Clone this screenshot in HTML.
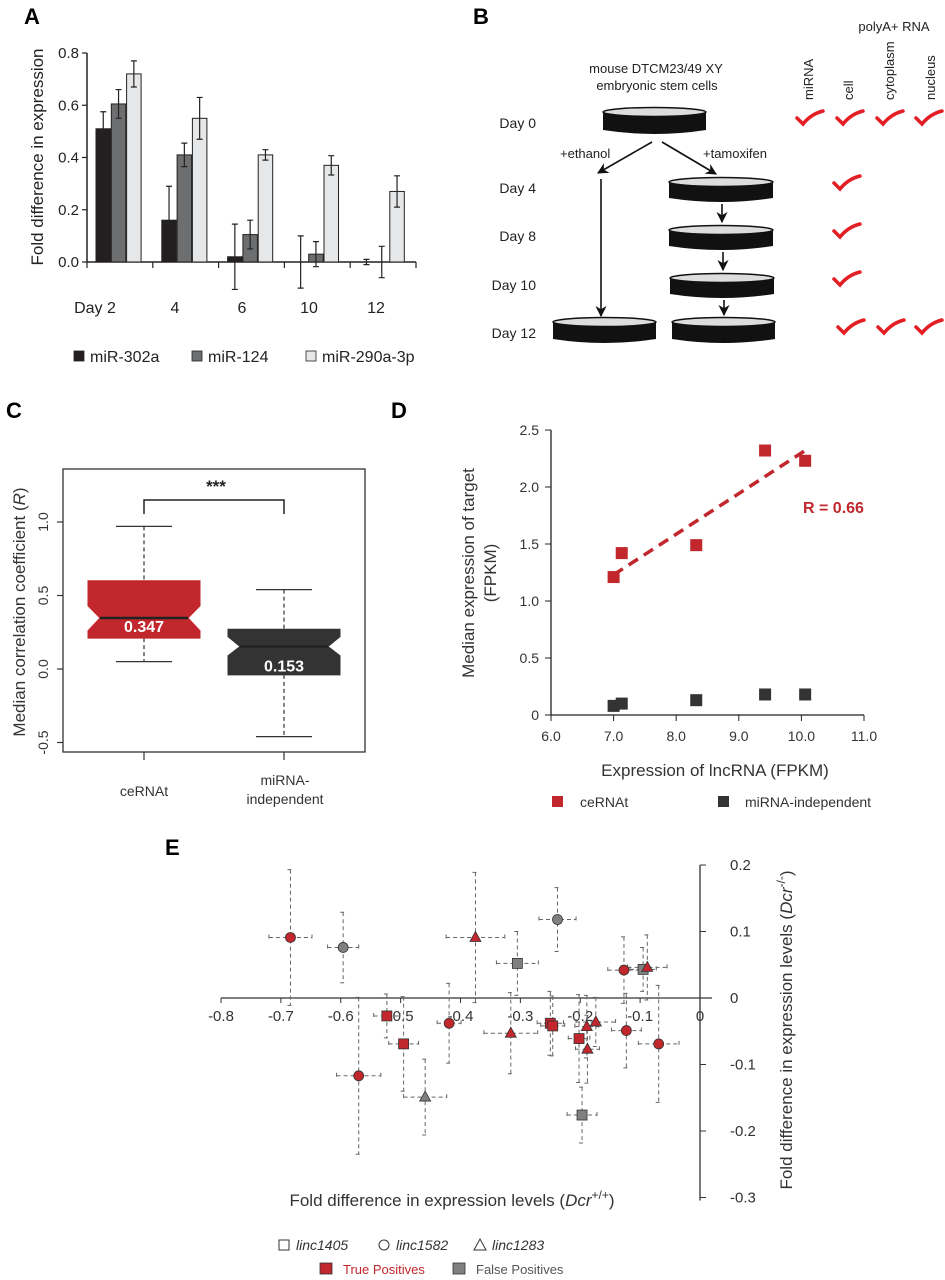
<!DOCTYPE html>
<html><head><meta charset="utf-8">
<style>
html,body{margin:0;padding:0;background:#fff;}
svg{display:block;font-family:"Liberation Sans",Arial,sans-serif;}
</style></head>
<body>
<svg id="fig" width="945" height="1280" viewBox="0 0 945 1280">
<defs>
<marker id="arr" viewBox="0 0 10 10" refX="9" refY="5" markerWidth="7" markerHeight="7" orient="auto"><path d="M0,0 L10,5 L0,10 L3,5 z" fill="#111"/></marker>
</defs>
<g id="pA"><text x="24" y="24" font-size="22" font-weight="bold">A</text></g>
<g id="pB"><text x="473" y="24" font-size="22" font-weight="bold">B</text></g>
<g id="pC"><text x="6" y="418" font-size="22" font-weight="bold">C</text></g>
<g id="pD"><text x="831" y="418" font-size="22" font-weight="bold" transform="translate(-440,0)">D</text></g>
<g id="pE"><text x="165" y="855" font-size="22" font-weight="bold">E</text></g>
</svg>
<script>
// ---------- Panel A data ----------
const aDays = ["Day 2","4","6","10","12"];
const aSeriesNames = ["miR-302a","miR-124","miR-290a-3p"];
const a302 = [0.51,0.16,0.02,0,0];
const a302err = [0.065,0.13,0.125,0.1,0.01];
const a124 = [0.605,0.41,0.105,0.03,0];
const a124err = [0.055,0.045,0.055,0.048,0.06];
const a290 = [0.72,0.55,0.41,0.37,0.27];
const a290err = [0.05,0.08,0.02,0.037,0.06];
const aTicks = [0,0.2,0.4,0.6,0.8];
const aTickLabels = ["0.0","0.2","0.4","0.6","0.8"];
// ---------- Panel C data ----------
const cGroups = ["ceRNAt","miRNA-independent"];
const cMedian = [0.347,0.153];
const cQ1 = [0.21,-0.04];
const cQ3 = [0.60,0.27];
const cNotchLo = [0.26,0.09];
const cNotchHi = [0.43,0.22];
const cWhiskLo = [0.05,-0.46];
const cWhiskHi = [0.97,0.54];
const cTicks = [-0.5,0,0.5,1.0];
const cTickLabels = ["-0.5","0.0","0.5","1.0"];
// ---------- Panel D data ----------
const dCeX = [7.0,7.13,8.32,9.42,10.06];
const dCeY = [1.21,1.42,1.49,2.32,2.23];
const dMiX = [7.0,7.13,8.32,9.42,10.06];
const dMiY = [0.08,0.10,0.13,0.18,0.18];
const dFitX = [7.0,10.06];
const dFitY = [1.23,2.32];
const dXTicks = [6,7,8,9,10,11];
const dXTickLabels = ["6.0","7.0","8.0","9.0","10.0","11.0"];
const dYTicks = [0,0.5,1.0,1.5,2.0,2.5];
const dYTickLabels = ["0","0.5","1.0","1.5","2.0","2.5"];
// ---------- Panel E data ----------
const eX = [-0.684,-0.596,-0.375,-0.238,-0.305,-0.127,-0.095,-0.088,-0.570,-0.523,-0.495,-0.459,-0.419,-0.316,-0.250,-0.246,-0.202,-0.189,-0.174,-0.188,-0.123,-0.069,-0.197];
const eY = [0.091,0.076,0.091,0.118,0.052,0.042,0.043,0.046,-0.117,-0.027,-0.069,-0.149,-0.038,-0.053,-0.038,-0.042,-0.061,-0.043,-0.036,-0.077,-0.049,-0.069,-0.176];
const eXErr = [0.036,0.026,0.049,0.031,0.035,0.027,0.022,0.033,0.037,0.022,0.025,0.036,0.02,0.045,0.022,0.02,0.018,0.02,0.033,0.02,0.025,0.034,0.025];
const eYErr = [0.102,0.053,0.098,0.048,0.048,0.05,0.033,0.049,0.118,0.033,0.071,0.057,0.06,0.061,0.048,0.045,0.066,0.047,0.037,0.051,0.056,0.088,0.042];
const eShape = ["c","c","t","c","s","c","s","t","c","s","s","t","c","t","s","s","s","t","t","t","c","c","s"];
const eTrue = [1,0,1,0,0,1,0,1,1,1,1,0,1,1,1,1,1,1,1,1,1,1,0];
const eXTicks = [-0.8,-0.7,-0.6,-0.5,-0.4,-0.3,-0.2,-0.1,0];
const eXTickLabels = ["-0.8","-0.7","-0.6","-0.5","-0.4","-0.3","-0.2","-0.1","0"];
const eYTicks = [0.2,0.1,0,-0.1,-0.2,-0.3];
const eYTickLabels = ["0.2","0.1","0","-0.1","-0.2","-0.3"];

const NS="http://www.w3.org/2000/svg";
function mk(parent,tag,attrs,text){const e=document.createElementNS(NS,tag);for(const k in attrs)e.setAttribute(k,attrs[k]);if(text!==undefined)e.textContent=text;parent.appendChild(e);return e;}

// ================= Panel A =================
(function(){
const g=document.getElementById('pA');
const y=v=>262-v*(209/0.8);
const x0=87, gw=65.8;
const ax=mk(g,'line',{x1:87,y1:262,x2:416,y2:262,stroke:'#222','stroke-width':1.5});


const ay=mk(g,'line',{x1:87,y1:y(0.8),x2:87,y2:262,stroke:'#222','stroke-width':1.5});


aTicks.forEach((t,i)=>{
  mk(g,'line',{x1:82,y1:y(t),x2:87,y2:y(t),stroke:'#222','stroke-width':1.2});
  const tl=mk(g,'text',{x:79,y:y(t)+5,'text-anchor':'end','font-size':15,fill:'#222'},aTickLabels[i]);
  
  
});
for(let i=0;i<=5;i++){mk(g,'line',{x1:x0+i*gw,y1:262,x2:x0+i*gw,y2:268,stroke:'#222','stroke-width':1.2});}
const series=[[a302,a302err,'#231f20'],[a124,a124err,'#6d6e70'],[a290,a290err,'#e6e7e8']];
series.forEach((s,si)=>{
  s[0].forEach((v,di)=>{
    const bx=x0+di*gw+9+si*15.3;
    const r=mk(g,'rect',{x:bx,y:Math.min(y(v),262),width:14.5,height:Math.abs(262-y(v)),fill:s[2],stroke:'#222','stroke-width':1});
    
    
    const cx=bx+7.25, e=s[1][di];
    const eb=mk(g,'path',{d:`M${cx},${y(v+e)}V${y(v-e)}M${cx-3},${y(v+e)}h6M${cx-3},${y(v-e)}h6`,stroke:'#222','stroke-width':1.2,fill:'none'});
    
    
  });
});
const dayX=[95,175,242,309,376];
aDays.forEach((d,i)=>{
  const t=mk(g,'text',{x:dayX[i],y:313,'text-anchor':'middle','font-size':16,fill:'#222'},d);
  
  
});
const yt=mk(g,'text',{transform:'translate(43,157) rotate(-90)','text-anchor':'middle','font-size':17,fill:'#222'},'Fold difference in expression');


const lx=[74,192,306], cols=['#231f20','#6d6e70','#e6e7e8'];
aSeriesNames.forEach((n,i)=>{
  const le=mk(g,'g',{});
  
  
  mk(le,'rect',{x:lx[i],y:351,width:10,height:10,fill:cols[i],stroke:'#222','stroke-width':0.8});
  mk(le,'text',{x:lx[i]+16,y:362,'font-size':16,fill:'#222'},n);
});
})();

// ================= Panel B =================
(function(){
const g=document.getElementById('pB');
function dish(x,yTop,w,h,name){
  const d=mk(g,'g',{});
  
  
  mk(d,'path',{d:`M${x},${yTop+4}V${yTop+h-4}Q${x+w/2},${yTop+h+4} ${x+w},${yTop+h-4}V${yTop+4}Z`,fill:'#111'});
  mk(d,'ellipse',{cx:x+w/2,cy:yTop+4,rx:w/2,ry:4.5,fill:'#ddd',stroke:'#111','stroke-width':1.5});
}
dish(603,108,103,26,'dish-day-0');
dish(669,178,104,24,'dish-day-4');
dish(669,226,104,24,'dish-day-8');
dish(670,274,104,24,'dish-day-10');
dish(553,318,103,25,'dish-day-12-ethanol');
dish(672,318,103,25,'dish-day-12-tamoxifen');
const days=[["Day 0",128],["Day 4",193],["Day 8",241],["Day 10",290],["Day 12",338]];
days.forEach(d=>{const t=mk(g,'text',{x:536,y:d[1],'text-anchor':'end','font-size':14,fill:'#222'},d[0]);
  
  });
const t1=mk(g,'text',{x:656,y:73,'text-anchor':'middle','font-size':13,fill:'#222'},'mouse DTCM23/49 XY');


mk(g,'text',{x:657,y:90,'text-anchor':'middle','font-size':13,fill:'#222'},'embryonic stem cells');
const e1=mk(g,'text',{x:560,y:158,'font-size':13,fill:'#222'},'+ethanol');


const e2=mk(g,'text',{x:703,y:158,'font-size':13,fill:'#222'},'+tamoxifen');


const arrows=[[652,142,598,173],[662,142,716,174],[601,179,601,316],[722,204,722,222],[723,252,723,270],[724,300,724,315]];
arrows.forEach(a=>{const l=mk(g,'line',{x1:a[0],y1:a[1],x2:a[2],y2:a[3],stroke:'#111','stroke-width':1.6,'marker-end':'url(#arr)'});
  
  });
const p=mk(g,'text',{x:894,y:31,'text-anchor':'middle','font-size':13,fill:'#222'},'polyA+ RNA');


[["miRNA",813],["cell",853],["cytoplasm",894],["nucleus",935]].forEach(c=>{
  const t=mk(g,'text',{transform:`translate(${c[1]},100) rotate(-90)`,'font-size':13,fill:'#222'},c[0]);
  
  });
const checks=[[797,118],[837,118],[877,118],[916,118],[834,183],[834,231],[834,279],[838,327],[878,327],[916,327]];
checks.forEach(c=>{const k=mk(g,'path',{d:`M${c[0]},${c[1]} L${c[0]+6},${c[1]+6} Q${c[0]+14},${c[1]-4} ${c[0]+26},${c[1]-7}`,stroke:'#e31e24','stroke-width':3.5,fill:'none','stroke-linecap':'round'});
  
  });
})();

// ================= Panel C =================
(function(){
const g=document.getElementById('pC');
const y=v=>669-v*147;
const cx=[144,284], hw=56, inset=12;
const fr=mk(g,'rect',{x:63,y:469,width:302,height:283,fill:'none',stroke:'#333','stroke-width':1.3});


cTicks.forEach((t,i)=>{
  mk(g,'line',{x1:57,y1:y(t),x2:63,y2:y(t),stroke:'#333','stroke-width':1.2});
  const tl=mk(g,'text',{transform:`translate(48,${y(t)}) rotate(-90)`,'text-anchor':'middle','font-size':14,fill:'#333'},cTickLabels[i]);
  
  
});
const fills=['#c1272d','#333333'];
cGroups.forEach((n,i)=>{
  const c=cx[i];
  const b=mk(g,'g',{});
  
  
  mk(b,'line',{x1:c,y1:y(cWhiskHi[i]),x2:c,y2:y(cQ3[i]),stroke:'#333','stroke-width':1.2,'stroke-dasharray':'4,3'});
  mk(b,'line',{x1:c,y1:y(cQ1[i]),x2:c,y2:y(cWhiskLo[i]),stroke:'#333','stroke-width':1.2,'stroke-dasharray':'4,3'});
  mk(b,'line',{x1:c-28,y1:y(cWhiskHi[i]),x2:c+28,y2:y(cWhiskHi[i]),stroke:'#333','stroke-width':1.2});
  mk(b,'line',{x1:c-28,y1:y(cWhiskLo[i]),x2:c+28,y2:y(cWhiskLo[i]),stroke:'#333','stroke-width':1.2});
  const L=c-hw,R=c+hw;
  mk(b,'path',{d:`M${L},${y(cQ3[i])}H${R}V${y(cNotchHi[i])}L${R-inset},${y(cMedian[i])}L${R},${y(cNotchLo[i])}V${y(cQ1[i])}H${L}V${y(cNotchLo[i])}L${L+inset},${y(cMedian[i])}L${L},${y(cNotchHi[i])}Z`,fill:fills[i],stroke:fills[i]});
  mk(b,'line',{x1:L+inset,y1:y(cMedian[i]),x2:R-inset,y2:y(cMedian[i]),stroke:'#222','stroke-width':2.5});
  const mt=mk(b,'text',{x:c,y:y(cMedian[i])+(i==0?14:25),'text-anchor':'middle','font-size':16,'font-weight':'bold',fill:'#fff'},cMedian[i].toFixed(3));
  mk(g,'line',{x1:c,y1:752,x2:c,y2:760,stroke:'#333','stroke-width':1.2});
});
const br=mk(g,'path',{d:'M144,514V500H284V514',fill:'none',stroke:'#222','stroke-width':1.5});


const st=mk(g,'text',{x:216,y:492,'text-anchor':'middle','font-size':17,'font-weight':'bold',fill:'#222'},'***');


const x1=mk(g,'text',{x:144,y:796,'text-anchor':'middle','font-size':14,fill:'#333'},'ceRNAt');


const x2=mk(g,'text',{x:285,y:785,'text-anchor':'middle','font-size':14,fill:'#333'},'miRNA-');


mk(g,'text',{x:285,y:804,'text-anchor':'middle','font-size':14,fill:'#333'},'independent');
const yt=mk(g,'text',{transform:'translate(25,612) rotate(-90)','text-anchor':'middle','font-size':17,fill:'#333'});


yt.innerHTML='Median correlation coefficient (<tspan font-style="italic">R</tspan>)';
})();

// ================= Panel D =================
(function(){
const g=document.getElementById('pD');
const x=v=>551+(v-6)*62.6;
const y=v=>715-v*114;
const ax=mk(g,'line',{x1:551,y1:715,x2:864,y2:715,stroke:'#222','stroke-width':1.3});


const ay=mk(g,'line',{x1:551,y1:y(2.5),x2:551,y2:715,stroke:'#222','stroke-width':1.3});


dXTicks.forEach((t,i)=>{mk(g,'line',{x1:x(t),y1:715,x2:x(t),y2:721,stroke:'#222'});
  const tl=mk(g,'text',{x:x(t),y:741,'text-anchor':'middle','font-size':14,fill:'#333'},dXTickLabels[i]);
  
  });
dYTicks.forEach((t,i)=>{mk(g,'line',{x1:545,y1:y(t),x2:551,y2:y(t),stroke:'#222'});
  const tl=mk(g,'text',{x:539,y:y(t)+5,'text-anchor':'end','font-size':14,fill:'#333'},dYTickLabels[i]);
  
  });
const fl=mk(g,'line',{x1:x(dFitX[0]),y1:y(dFitY[0]),x2:x(dFitX[1]),y2:y(dFitY[1]),stroke:'#c1272d','stroke-width':3.5,'stroke-dasharray':'11,7'});


dCeX.forEach((v,i)=>{const r=mk(g,'rect',{x:x(v)-6,y:y(dCeY[i])-6,width:12,height:12,fill:'#c1272d'});
  
  });
dMiX.forEach((v,i)=>{const r=mk(g,'rect',{x:x(v)-6,y:y(dMiY[i])-6,width:12,height:12,fill:'#333'});
  
  });
const rl=mk(g,'text',{x:803,y:513,'font-size':16,'font-weight':'bold',fill:'#c1272d'},'R = 0.66');


const xt=mk(g,'text',{x:715,y:776,'text-anchor':'middle','font-size':17,fill:'#333'},'Expression of lncRNA (FPKM)');


const yt=mk(g,'text',{transform:'translate(474,573) rotate(-90)','text-anchor':'middle','font-size':17,fill:'#333'},'Median expression of target');


mk(g,'text',{transform:'translate(496,573) rotate(-90)','text-anchor':'middle','font-size':17,fill:'#333'},'(FPKM)');
const l1=mk(g,'g',{});


mk(l1,'rect',{x:552,y:796,width:11,height:11,fill:'#c1272d'});
mk(l1,'text',{x:580,y:807,'font-size':14,fill:'#333'},'ceRNAt');
const l2=mk(g,'g',{});


mk(l2,'rect',{x:718,y:796,width:11,height:11,fill:'#333'});
mk(l2,'text',{x:745,y:807,'font-size':14,fill:'#333'},'miRNA-independent');
})();

// ================= Panel E =================
(function(){
const g=document.getElementById('pE');
const x=v=>700+v*598.75;
const y=v=>998-v*665;
const ax=mk(g,'line',{x1:221,y1:998,x2:712,y2:998,stroke:'#333','stroke-width':1.3});


const ay=mk(g,'line',{x1:700,y1:y(0.2),x2:700,y2:y(-0.3)+3,stroke:'#333','stroke-width':1.3});


eXTicks.forEach((t,i)=>{mk(g,'line',{x1:x(t),y1:998,x2:x(t),y2:1003,stroke:'#333'});
  const tl=mk(g,'text',{x:x(t),y:1021,'text-anchor':'middle','font-size':15,fill:'#333'},eXTickLabels[i]);
  
  });
eYTicks.forEach((t,i)=>{mk(g,'line',{x1:700,y1:y(t),x2:706,y2:y(t),stroke:'#333'});
  const tl=mk(g,'text',{x:730,y:y(t)+5,'font-size':15,fill:'#333'},eYTickLabels[i]);
  
  });
eX.forEach((v,i)=>{
  const px=x(v),py=y(eY[i]),dx=eXErr[i]*598.75,dy=eYErr[i]*665;
  const eb=mk(g,'path',{d:`M${px-dx},${py}H${px+dx}M${px},${py-dy}V${py+dy}M${px-dx},${py-3}v6M${px+dx},${py-3}v6M${px-3},${py-dy}h6M${px-3},${py+dy}h6`,stroke:'#666','stroke-width':1,fill:'none','stroke-dasharray':'4,3'});
  
  
});
eX.forEach((v,i)=>{
  const px=x(v),py=y(eY[i]);
  const fill=eTrue[i]?'#c1272d':'#808080';
  let m;
  if(eShape[i]=='c') m=mk(g,'circle',{cx:px,cy:py,r:5,fill:fill,stroke:'#333','stroke-width':0.8});
  else if(eShape[i]=='s') m=mk(g,'rect',{x:px-5,y:py-5,width:10,height:10,fill:fill,stroke:'#333','stroke-width':0.8});
  else m=mk(g,'path',{d:`M${px},${py-6}L${px+5.5},${py+4}L${px-5.5},${py+4}Z`,fill:fill,stroke:'#333','stroke-width':0.8});
  
  
});
const xt=mk(g,'text',{x:452,y:1206,'text-anchor':'middle','font-size':17,fill:'#333'});


xt.innerHTML='Fold difference in expression levels (<tspan font-style="italic">Dcr</tspan><tspan dy="-7" font-size="12">+/+</tspan><tspan dy="7">)</tspan>';
const yt=mk(g,'text',{transform:'translate(792,1030) rotate(-90)','text-anchor':'middle','font-size':17,fill:'#333'});


yt.innerHTML='Fold difference in expression levels (<tspan font-style="italic">Dcr</tspan><tspan dy="-7" font-size="12">-/-</tspan><tspan dy="7">)</tspan>';
const lg=[['s','linc1405',284],['c','linc1582',384],['t','linc1283',480]];
lg.forEach(l=>{
  const e=mk(g,'g',{});
  
  
  const cx=l[2],cy=1245;
  if(l[0]=='s') mk(e,'rect',{x:cx-5,y:cy-5,width:10,height:10,fill:'#fff',stroke:'#333'});
  else if(l[0]=='c') mk(e,'circle',{cx:cx,cy:cy,r:5,fill:'#fff',stroke:'#333'});
  else mk(e,'path',{d:`M${cx},${cy-6}L${cx+6},${cy+5}L${cx-6},${cy+5}Z`,fill:'#fff',stroke:'#333'});
  mk(e,'text',{x:cx+12,y:cy+5,'font-size':14,'font-style':'italic',fill:'#333'},l[1]);
});
const t1=mk(g,'g',{});


mk(t1,'rect',{x:320,y:1263,width:12,height:11,fill:'#c1272d',stroke:'#333','stroke-width':0.8});
mk(t1,'text',{x:343,y:1274,'font-size':13,fill:'#c1272d'},'True Positives');
const t2=mk(g,'g',{});


mk(t2,'rect',{x:453,y:1263,width:12,height:11,fill:'#808080',stroke:'#333','stroke-width':0.8});
mk(t2,'text',{x:476,y:1274,'font-size':13,fill:'#555'},'False Positives');
})();
</script>
</body></html>
